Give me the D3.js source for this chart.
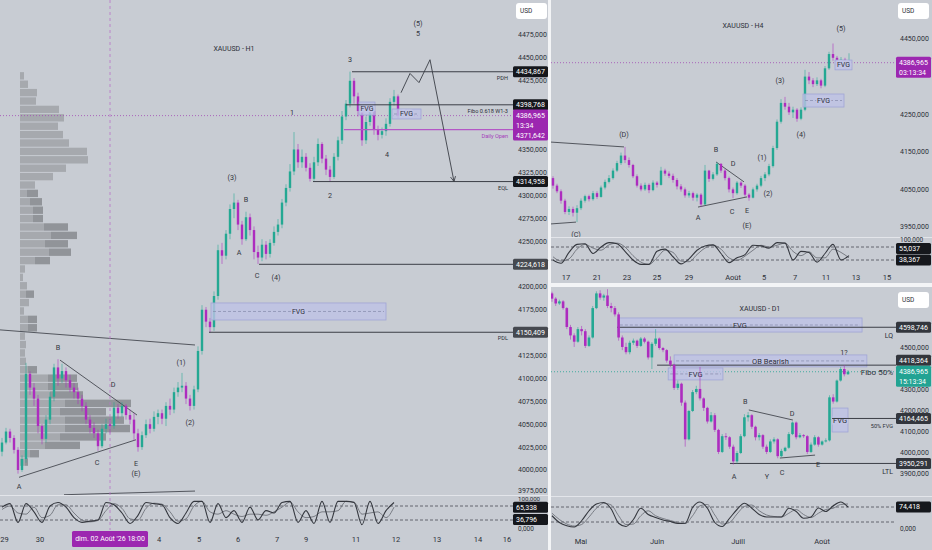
<!DOCTYPE html>
<html>
<head>
<meta charset="utf-8">
<script src="https://cdn.jsdelivr.net/npm/d3@7"></script>
<style>
  body { margin: 0; background: #f3f4f6; }
  text { font-family: Roboto, "Liberation Sans", Arial, sans-serif; }
</style>
</head>
<body>
<script>
// ---- XAUUSD H1 ----
var h1Open = 4020;
var h1Close = [4030,4042,4035,4022,4000,4012,4105,4090,4078,4048,
  4034,4055,4080,4112,4100,4108,4098,4090,4085,4078,
  4070,4055,4046,4040,4026,4045,4050,4048,4068,4062,
  4070,4060,4055,4040,4025,4038,4050,4045,4058,4062,
  4056,4070,4066,4085,4090,4092,4078,4070,4088,4130,
  4175,4162,4156,4190,4240,4234,4258,4285,4292,4268,
  4252,4276,4262,4238,4232,4246,4236,4248,4260,4268,
  4292,4308,4326,4350,4336,4342,4330,4318,4336,4356,
  4340,4328,4320,4342,4360,4386,4400,4425,4408,4392,
  4360,4380,4392,4372,4366,4370,4378,4402,4408,4387];
var h1High = [4035,4046,4045,4038,4025,4016,4117,4108,4095,4082,
  4050,4060,4085,4116,4121,4116,4112,4104,4095,4090,
  4082,4074,4060,4052,4044,4050,4056,4056,4074,4072,
  4074,4072,4066,4062,4045,4042,4055,4056,4064,4066,
  4066,4074,4078,4090,4096,4106,4096,4082,4092,4135,
  4180,4178,4166,4195,4246,4248,4262,4290,4302,4295,
  4272,4282,4280,4266,4245,4252,4250,4252,4266,4274,
  4296,4312,4334,4369,4356,4350,4346,4335,4342,4362,
  4358,4344,4332,4346,4364,4392,4404,4435,4428,4412,
  4394,4386,4396,4394,4376,4374,4384,4406,4415,4410];
var h1Low = [4015,4028,4030,4018,3996,3998,4008,4082,4070,4040,
  4028,4030,4050,4075,4092,4095,4090,4085,4078,4072,
  4064,4050,4040,4035,4021,4024,4040,4040,4045,4056,
  4058,4055,4050,4032,4020,4022,4035,4040,4042,4050,
  4050,4048,4060,4062,4080,4085,4072,4065,4066,4085,
  4126,4156,4150,4152,4186,4225,4230,4252,4275,4262,
  4246,4250,4256,4230,4225,4228,4230,4232,4245,4256,
  4264,4288,4304,4322,4330,4330,4326,4315,4316,4332,
  4335,4322,4315,4318,4338,4356,4382,4396,4400,4386,
  4354,4356,4376,4366,4360,4362,4365,4375,4398,4384];
var h1K = [75,90,10,90,55,10,80,95,75,30,10,15,20,95,85,50,5,40,95,90,85,30,5,50,100,
  100,10,90,30,60,10,75,20,60,50,95,100,10,60,5,100,10,100,100,95,0,100,5,60,95];
var h1D = [65,80,50,45,75,30,40,85,85,50,20,12,18,60,90,70,25,20,70,92,88,55,15,25,80,
  100,55,45,60,45,35,45,45,40,55,75,97,55,30,35,55,55,60,100,97,45,50,55,30,75];
var h1Ticks = [4475,4450,4425,4350,4325,4300,4275,4250,4200,4175,4125,4100,4075,4050,4025,4000,3975];
var h1TimeIdx = [0.6,9.5,39.25,49.25,59,68.75,76,88.5,98.5,108.75,119,126.25];
var h1TimeTxt = ["29","30","4","5","6","7","9","11","12","13","14","16"];
var h1Levels = [4434.867,4398.768,4314.958,4224.618,4150.409];
var h1LevelFrom = [87.5,86,77.75,64.25,51.75];
var h1LevelTag = ["PDH","Fibo 0.618 W1-3","EQL","","PDL"];
var h1DailyOpen = 4371.642, h1DailyFrom = 85.5;
var h1Last = 4386.965;
var h1OscLast = [65.338,36.796];
var vpTop = 4435, vpStep = 9.17;
var vpLight = [4,8,17,16,39,44,38,43,49,67,68,46,33,15,7,10,13,13,24,31,25,29,15,5,3,7,6,9,4,8,8,5,6,5,6,8,28,28,30,45,40,45,45,40,25,10,5];
var vpDark  = [0,0,0,0,0,0,0,0,0,0,0,0,0,0,11,12,10,10,24,26,23,22,15,0,0,0,8,0,0,9,9,0,0,0,0,9,29,30,33,66,46,59,65,46,35,9,3];
var h1NoteTxt = ["(5)","5","3","1","2","4","(3)","B","A","C","(4)","(1)","(2)","B","D","C","E","(E)","A"];
var h1NoteIdx = [104,104,87,72.5,82,96.25,57.5,61,59.25,63.75,68.5,44.75,47,14,27.75,23.75,33.5,33.5,4.25];
var h1NotePx  = [4488,4477,4448,4390,4300,4344,4319,4295,4237,4212,4210,4117,4052,4134,4093,4008,4007,3996,3982];
var h1Lines = [[-0.5,4153,48.25,4136.5],[14.5,4120,33.75,4060],[4.25,3992,33.5,4033],[15.5,3973,48.25,3977]];
var h1PathIdx = [99.75,102,104.25,107,113];
var h1PathPx = [4412,4433,4423,4448,4315];
var h1Zones = [[52.25,96,4182.4,4163.8,"FVG"],[89.25,93.25,4401.8,4387.6,"FVG"],[97.5,104.75,4394.2,4383.3,"FVG"]];

// ---- XAUUSD H4 ----
var h4Open = 4080;
var h4Close = [4060,4045,4020,3990,3998,3988,4000,4020,4032,4024,
  4040,4030,4055,4070,4080,4100,4120,4140,4128,4115,
  4085,4060,4050,4062,4048,4068,4062,4100,4092,4086,
  4075,4058,4050,4034,4040,4028,4036,4010,4100,4078,
  4090,4118,4100,4080,4050,4040,4068,4060,4036,4028,
  4050,4060,4080,4090,4112,4160,4230,4280,4270,4255,
  4262,4238,4262,4350,4340,4330,4340,4326,4372,4410,
  4400,4380,4395,4378,4387];
var h4High = [4085,4065,4050,4025,4005,4004,4008,4026,4036,4036,
  4046,4045,4060,4076,4088,4106,4126,4148,4163,4135,
  4118,4090,4066,4068,4066,4074,4072,4110,4105,4098,
  4092,4080,4064,4055,4046,4044,4040,4040,4115,4102,
  4096,4123,4120,4104,4084,4055,4072,4072,4064,4040,
  4055,4065,4086,4096,4118,4166,4236,4290,4296,4280,
  4270,4266,4268,4368,4362,4346,4348,4344,4378,4416,
  4438,4405,4402,4400,4412];
var h4Low = [4052,4040,4012,3984,3982,3978,3963,3995,4015,4018,
  4020,4025,4028,4050,4066,4076,4096,4115,4120,4108,
  4080,4055,4045,4046,4040,4045,4055,4060,4086,4080,
  4068,4050,4044,4028,4028,4020,4018,4003,4008,4070,
  4074,4086,4094,4074,4042,4027,4036,4054,4030,4020,
  4026,4044,4056,4072,4085,4108,4155,4225,4262,4248,
  4240,4230,4234,4258,4330,4322,4325,4319,4322,4368,
  4392,4372,4378,4372,4376];
var h4K = [20,5,55,92,95,50,80,100,95,60,20,0,0,60,70,35,2,25,65,85,90,50,8,30,45,88,85,75,100,98,20,60,55,10,50,92,20,40];
var h4D = [35,15,25,70,92,75,65,90,98,80,40,10,0,30,65,55,15,12,45,75,88,70,30,18,38,65,88,80,88,98,60,40,58,30,30,70,55,30];
var h4Ticks = [4450,4250,4150,4050,3950];
var h4TimeIdx = [3.25,11,18.5,26,34,45,52.75,60.5,68.25,75.75,83.5];
var h4TimeTxt = ["17","21","23","25","29","Août","5","7","11","13","15"];
var h4OscLast = [55.037,38.367];
var h4NoteTxt = ["(5)","(3)","(4)","(D)","(1)","(2)","B","D","A","C","E","(E)","(C)"];
var h4NoteIdx = [72,56.75,62,17.75,52.25,53.75,40.75,45,36.25,44.75,48.5,48.5,5.75];
var h4NotePx  = [4477,4341,4195,4195,4134,4040,4157,4118,3974,3990,3995,3953,3931];
var h4Lines = [[-0.75,4176,17.75,4163],[-0.75,3958,5.75,3963],[40.75,4123,47.75,4070],[36.25,4003,48.5,4030]];
var h4Zones = [[62.5,72.75,4303.7,4269.1,"FVG"],[70.5,74.75,4394,4368,"FVG"]];

// ---- XAUUSD D1 ----
var d1Open = 4760;
var d1Close = [4735,4712,4722,4690,4600,4560,4530,4590,4580,4510,
  4550,4690,4760,4740,4750,4700,4690,4660,4550,4505,
  4480,4525,4535,4510,4545,4530,4455,4520,4545,4500,
  4490,4440,4420,4310,4330,4240,4065,4200,4290,4305,
  4260,4215,4150,4180,4110,4005,4080,4075,4030,3960,
  4000,4080,4170,4180,4125,4075,4085,4030,4005,4055,
  4065,3985,4010,4025,4090,4145,4075,4085,4080,4005,
  4040,4075,4040,4055,4060,4265,4245,4345,4400,4375,
  4387];
var d1High = [4768,4742,4730,4728,4695,4610,4570,4600,4605,4590,
  4560,4700,4770,4775,4758,4780,4715,4700,4670,4560,
  4525,4535,4545,4540,4552,4552,4535,4528,4590,4550,
  4505,4495,4460,4425,4345,4335,4250,4205,4300,4320,
  4410,4265,4220,4195,4190,4115,4090,4095,4080,4040,
  4010,4090,4185,4195,4185,4130,4095,4090,4040,4065,
  4075,4070,4020,4030,4100,4150,4150,4095,4090,4085,
  4050,4085,4080,4060,4070,4275,4280,4350,4410,4418,
  4395];
var d1Low = [4720,4700,4705,4682,4590,4540,4505,4525,4560,4500,
  4505,4545,4685,4730,4725,4690,4670,4650,4535,4490,
  4470,4470,4515,4500,4505,4522,4445,4400,4510,4492,
  4480,4430,4410,4300,4300,4225,4030,4060,4195,4280,
  4250,4200,4140,4145,4100,3995,4000,4062,4020,3945,
  3950,3995,4075,4150,4115,4060,4060,4020,3995,4000,
  4045,3975,3980,4005,4020,4085,4065,4070,4072,3995,
  4000,4035,4030,4035,4050,4055,4235,4240,4340,4365,
  4372];
var d1K = [45,18,5,0,25,65,92,98,72,15,2,30,75,50,38,28,22,14,15,78,100,75,18,2,35,70,95,75,50,40,40,40,75,62,35,40,76,62,85,100,80];
var d1D = [55,30,12,4,10,40,75,95,88,45,10,12,45,65,45,34,26,18,14,45,85,90,48,12,18,52,82,88,65,48,42,40,55,70,50,38,55,70,75,90,92];
var d1Ticks = [4500,4300,4200,4100,4000,3900];
var d1TimeIdx = [7.8,28.4,50.3,73];
var d1TimeTxt = ["Mai","Juin","Juill","Août"];
var d1Levels = [4598.746,4418.364,4164.465,3950.291];
var d1LevelFrom = [17.6,28.4,75.7,48.1];
var d1LevelTag = ["LQ","","50% FVG","LTL"];
var d1OscLast = [74.418];
var d1NoteTxt = ["1?","A","Y","C","E","B","D"];
var d1NoteIdx = [78.9,49.2,58.1,62.2,71.9,52.2,64.9];
var d1NotePx  = [4481,3890,3886,3905,3943,4243,4190];
var d1Lines = [[53.2,4205,65.1,4157],[61.6,3976,71.1,3990]];
var d1Zones = [[17.8,83.8,4643,4576,"FVG"],[33,85.1,4467,4410,"OB Bearish"],[31.4,46.2,4405,4348,"FVG"],[75.7,80,4214,4100,"FVG"]];
var lastPrice = 4386.965;

var BG = "#c8ccd3", INK = "#2c2f37", UP = "#24a893", DOWN = "#ad2cbf",
    PURPLE = "#9c27b0", TEAL = "#22a393", LEVEL = "#3b3e46", SEP = "#e3e5ea";

var svg = d3.select("body").append("svg").attr("width", 932).attr("height", 550);
svg.append("rect").attr("width", 932).attr("height", 550).attr("fill", "#f3f4f6");
svg.append("defs").append("marker").attr("id", "arrow").attr("viewBox", "0 0 10 10")
    .attr("refX", 9).attr("refY", 5).attr("markerWidth", 7).attr("markerHeight", 7).attr("orient", "auto")
  .append("path").attr("d", "M1,1 L9,5 L1,9").attr("fill", "none").attr("stroke", LEVEL).attr("stroke-width", 1.3);

function num(v) { return d3.format(".3f")(v).replace(".", ","); }

function clipped(id, x, y, w, h) {
  svg.append("clipPath").attr("id", id).append("rect")
      .attr("x", x).attr("y", y).attr("width", w).attr("height", h);
  return svg.append("g").attr("clip-path", "url(#" + id + ")");
}

function txt(g, x, y, t, size, fill, anchor) {
  return g.append("text").attr("x", x).attr("y", y).attr("dy", "0.35em")
      .attr("font-size", size).attr("fill", fill || INK)
      .attr("text-anchor", anchor || "middle").text(t);
}

function tag(x, y, w, t, fill) {
  svg.append("rect").attr("x", x).attr("y", y - 5.5).attr("width", w).attr("height", 11)
      .attr("rx", 1.5).attr("fill", fill);
  txt(svg, x + 3, y, t, 7, "#fff", "start");
}

function usd(x, y) {
  svg.append("rect").attr("x", x).attr("y", y).attr("width", 31).attr("height", 16)
      .attr("rx", 3).attr("fill", "#fff");
  txt(svg, x + 4, y + 8, "USD", 6.5, INK, "start");
}

function candles(g, x, y, open0, close, high, low, w) {
  var rows = close.map(function(c, i) {
    return {i: i, o: i ? close[i - 1] : open0, c: c, h: high[i], l: low[i]};
  });
  var s = g.selectAll(null).data(rows).enter().append("g")
      .attr("fill", function(d) { return d.c >= d.o ? UP : DOWN; })
      .attr("stroke", function(d) { return d.c >= d.o ? UP : DOWN; });
  s.append("line")
      .attr("x1", function(d) { return x(d.i); }).attr("x2", function(d) { return x(d.i); })
      .attr("y1", function(d) { return y(Math.max(d.h, d.o, d.c)); })
      .attr("y2", function(d) { return y(Math.min(d.l, d.o, d.c)); })
      .attr("stroke-width", 0.7).attr("stroke-opacity", 0.8);
  s.append("rect").attr("stroke", "none")
      .attr("x", function(d) { return x(d.i) - w / 2; }).attr("width", w)
      .attr("y", function(d) { return y(Math.max(d.o, d.c)); })
      .attr("height", function(d) { return Math.max(0.8, Math.abs(y(d.o) - y(d.c))); });
}

function stoch(g, x, y, k, d, x0, x1) {
  [80, 20].forEach(function(v) {
    g.append("line").attr("x1", x0).attr("x2", x1).attr("y1", y(v)).attr("y2", y(v))
        .attr("stroke", "#4a4d55").attr("stroke-dasharray", "3,2").attr("stroke-width", 0.8);
  });
  var line = d3.line().x(function(v, j) { return x(j * 2); }).y(function(v) { return y(v); })
      .curve(d3.curveMonotoneX);
  g.append("path").attr("d", line(d)).attr("fill", "none").attr("stroke", "#6f737b").attr("stroke-width", 0.9);
  g.append("path").attr("d", line(k)).attr("fill", "none").attr("stroke", "#34373e").attr("stroke-width", 1.1);
}

function segments(g, x, y, list) {
  g.selectAll(null).data(list).enter().append("line")
      .attr("x1", function(s) { return x(s[0]); }).attr("y1", function(s) { return y(s[1]); })
      .attr("x2", function(s) { return x(s[2]); }).attr("y2", function(s) { return y(s[3]); })
      .attr("stroke", "#454850").attr("stroke-width", 0.9);
}

function zones(g, x, y, list, size) {
  list.forEach(function(z) {
    var xa = x(z[0]), xb = x(z[1]), ya = y(z[2]), yb = y(z[3]);
    g.append("rect").attr("x", xa).attr("y", ya).attr("width", xb - xa).attr("height", yb - ya)
        .attr("fill", "#bec2e6").attr("fill-opacity", 0.8).attr("stroke", "#a0a5d6").attr("stroke-width", 0.8);
    g.append("line").attr("x1", xa + 2).attr("x2", xb - 2).attr("y1", (ya + yb) / 2).attr("y2", (ya + yb) / 2)
        .attr("stroke", "#8489aa").attr("stroke-dasharray", "3,2").attr("stroke-width", 0.7);
    txt(g, (xa + xb) / 2, (ya + yb) / 2, z[4], size, INK)
        .attr("stroke", "#c3c6e6").attr("stroke-width", 3).attr("paint-order", "stroke");
  });
}

function notes(g, x, y, t, idx, px, size) {
  t.forEach(function(s, k) { txt(g, x(idx[k]), y(px[k]), s, size, "#33363e"); });
}

// ================= H1 panel =================
var x1 = d3.scaleLinear().domain([0, 99]).range([2, 398]);
var y1 = d3.scaleLinear().domain([4000, 4475]).range([470, 35]);
var o1 = d3.scaleLinear().domain([20, 80]).range([520, 506]);

svg.append("rect").attr("x", 0).attr("y", 0).attr("width", 548).attr("height", 550).attr("fill", BG);
var g1 = clipped("c1", 0, 0, 513, 495);

var vx = d3.scaleLinear().domain([0, 100]).range([20, 120]);
var vp = g1.selectAll(null).data(vpLight).enter().append("g");
vp.append("rect").attr("x", vx(0))
    .attr("y", function(v, k) { return y1(vpTop - k * vpStep) + 0.5; })
    .attr("width", function(v) { return vx(v) - vx(0); })
    .attr("height", y1(0) - y1(vpStep) - 1).attr("fill", "#a6a9ae");
vp.append("rect").attr("x", function(v) { return vx(v); })
    .attr("y", function(v, k) { return y1(vpTop - k * vpStep) + 0.5; })
    .attr("width", function(v, k) { return vx(vpDark[k]) - vx(0); })
    .attr("height", y1(0) - y1(vpStep) - 1).attr("fill", "#919499");

g1.append("line").attr("x1", 0).attr("x2", 513).attr("y1", y1(h1Last)).attr("y2", y1(h1Last))
    .attr("stroke", "#a14ab4").attr("stroke-dasharray", "1,2").attr("stroke-width", 0.8);

segments(g1, x1, y1, h1Lines);
candles(g1, x1, y1, h1Open, h1Close, h1High, h1Low, 2.4);
zones(g1, x1, y1, h1Zones, 7);

h1Levels.forEach(function(v, k) {
  g1.append("line").attr("x1", x1(h1LevelFrom[k])).attr("x2", 513).attr("y1", y1(v)).attr("y2", y1(v))
      .attr("stroke", LEVEL).attr("stroke-width", 1);
  if (h1LevelTag[k]) txt(g1, 508, y1(v) + 6, h1LevelTag[k], 5.6, INK, "end");
});
g1.append("line").attr("x1", x1(h1DailyFrom)).attr("x2", 513).attr("y1", y1(h1DailyOpen)).attr("y2", y1(h1DailyOpen))
    .attr("stroke", "#b457c6").attr("stroke-width", 1.3);
txt(g1, 508, y1(h1DailyOpen) + 6, "Daily Open", 5.6, "#a63dbb", "end");

g1.append("path")
    .attr("d", d3.line()(h1PathIdx.map(function(v, k) { return [x1(v), y1(h1PathPx[k])]; })))
    .attr("fill", "none").attr("stroke", LEVEL).attr("stroke-width", 0.9).attr("marker-end", "url(#arrow)");

notes(g1, x1, y1, h1NoteTxt, h1NoteIdx, h1NotePx, 7.2);
txt(g1, x1(58), y1(4460), "XAUUSD - H1", 7, INK);

svg.append("line").attr("x1", x1(27)).attr("x2", x1(27)).attr("y1", 0).attr("y2", 530)
    .attr("stroke", "#b873c8").attr("stroke-dasharray", "3,3").attr("stroke-width", 0.8);
svg.append("line").attr("x1", 0).attr("x2", 548).attr("y1", 495.5).attr("y2", 495.5).attr("stroke", SEP);

var a1 = clipped("c1a", 513, 0, 35, 495);
h1Ticks.forEach(function(t) { txt(a1, 518, Math.min(y1(t), 490.5), num(t), 7, INK, "start"); });
h1Levels.forEach(function(v, k) { tag(513, y1(v), 35, num(v), k < 3 ? "#15171c" : "#464950"); });
svg.append("rect").attr("x", 513).attr("y", y1(h1Last) - 6).attr("width", 35).attr("height", 31)
    .attr("rx", 1.5).attr("fill", PURPLE);
txt(svg, 516, y1(h1Last), num(h1Last), 7, "#fff", "start");
txt(svg, 516, y1(h1Last) + 10, "13:34", 7, "#fff", "start");
txt(svg, 516, y1(h1DailyOpen) + 6, num(h1DailyOpen), 7, "#fff", "start");
usd(516, 3);

var g1o = clipped("c1o", 0, 496, 513, 34);
stoch(g1o, x1, o1, h1K, h1D, 0, 513);
txt(svg, 518, 498.5, "100,000", 6.2, INK, "start");
txt(svg, 518, o1(0) + 4, "0,000", 6.5, INK, "start");
tag(513, o1(80) + 1.2, 35, num(h1OscLast[0]), "#15171c");
tag(513, o1(20) - 0.5, 35, num(h1OscLast[1]), "#15171c");

h1TimeIdx.forEach(function(v, k) { txt(svg, x1(v), 539, h1TimeTxt[k], 7.5, INK); });
svg.append("rect").attr("x", x1(27) - 38).attr("y", 531).attr("width", 76).attr("height", 16)
    .attr("rx", 1.5).attr("fill", PURPLE);
txt(svg, x1(27), 539, "dim. 02 Août '26   18:00", 7, "#fff");

// ================= H4 panel =================
var x2 = d3.scaleLinear().domain([0, 74]).range([553, 849]);
var y2 = d3.scaleLinear().domain([3950, 4450]).range([227, 39]);
var o2 = d3.scaleLinear().domain([20, 80]).range([260, 247]);

svg.append("rect").attr("x", 551).attr("y", 0).attr("width", 381).attr("height", 283).attr("fill", BG);
var g2 = clipped("c2", 551, 0, 345, 237);
g2.append("line").attr("x1", 551).attr("x2", 896).attr("y1", y2(lastPrice)).attr("y2", y2(lastPrice))
    .attr("stroke", "#a14ab4").attr("stroke-dasharray", "1,2").attr("stroke-width", 0.8);
segments(g2, x2, y2, h4Lines);
candles(g2, x2, y2, h4Open, h4Close, h4High, h4Low, 2.4);
zones(g2, x2, y2, h4Zones, 7);
notes(g2, x2, y2, h4NoteTxt, h4NoteIdx, h4NotePx, 7.2);
txt(g2, x2(47.5), y2(4485), "XAUUSD - H4", 7, INK);

svg.append("line").attr("x1", 551).attr("x2", 932).attr("y1", 237.5).attr("y2", 237.5).attr("stroke", SEP);
h4Ticks.forEach(function(t) { txt(svg, 900, y2(t), num(t), 7, INK, "start"); });
svg.append("rect").attr("x", 896).attr("y", y2(lastPrice) - 6).attr("width", 35).attr("height", 21)
    .attr("rx", 1.5).attr("fill", PURPLE);
txt(svg, 899, y2(lastPrice), num(lastPrice), 7, "#fff", "start");
txt(svg, 899, y2(lastPrice) + 10, "03:13:34", 7, "#fff", "start");
usd(898, 3);

var g2o = clipped("c2o", 551, 238, 345, 32);
stoch(g2o, x2, o2, h4K, h4D, 551, 896);
txt(svg, 900, o2(100) - 3, "100,000", 6.5, INK, "start");
tag(896, o2(80) + 1.5, 35, num(h4OscLast[0]), "#15171c");
tag(896, o2(20), 35, num(h4OscLast[1]), "#15171c");
h4TimeIdx.forEach(function(v, k) { txt(svg, x2(v), 277, h4TimeTxt[k], 7.5, INK); });

// ================= D1 panel =================
var x3 = d3.scaleLinear().domain([0, 80]).range([552, 848]);
var y3 = d3.scaleLinear().domain([4000, 4500]).range([453, 348]);
var o3 = d3.scaleLinear().domain([20, 80]).range([522, 507]);

svg.append("rect").attr("x", 551).attr("y", 287).attr("width", 381).attr("height", 263).attr("fill", BG);
var g3 = clipped("c3", 551, 287, 345, 209);
g3.append("line").attr("x1", 551).attr("x2", 896).attr("y1", y3(lastPrice)).attr("y2", y3(lastPrice))
    .attr("stroke", TEAL).attr("stroke-dasharray", "1,2").attr("stroke-width", 0.8);
zones(g3, x3, y3, d1Zones, 7.5);
segments(g3, x3, y3, d1Lines);
d1Levels.forEach(function(v, k) {
  g3.append("line").attr("x1", x3(d1LevelFrom[k])).attr("x2", 896).attr("y1", y3(v)).attr("y2", y3(v))
      .attr("stroke", LEVEL).attr("stroke-width", 1);
  if (d1LevelTag[k]) txt(g3, 893, y3(v) + 8, d1LevelTag[k], k == 2 ? 5.6 : 7, INK, "end");
});
candles(g3, x3, y3, d1Open, d1Close, d1High, d1Low, 2.6);
notes(g3, x3, y3, d1NoteTxt, d1NoteIdx, d1NotePx, 7.2);
txt(g3, x3(56.2), y3(4690), "XAUUSD - D1", 7, INK);
txt(g3, 893, y3(lastPrice), "Fibo 50%", 8, INK, "end");

svg.append("line").attr("x1", 551).attr("x2", 932).attr("y1", 496.5).attr("y2", 496.5).attr("stroke", SEP);
d1Ticks.forEach(function(t) { txt(svg, 900, y3(t), num(t), 7, INK, "start"); });
var tealTop = y3(lastPrice) - 6;
d1Levels.forEach(function(v, k) {
  tag(896, k == 1 ? Math.min(y3(v), tealTop - 5.5) : y3(v), 35, num(v), "#33363d");
});
svg.append("rect").attr("x", 896).attr("y", tealTop).attr("width", 35).attr("height", 21)
    .attr("rx", 1.5).attr("fill", TEAL);
txt(svg, 899, y3(lastPrice), num(lastPrice), 7, "#fff", "start");
txt(svg, 899, y3(lastPrice) + 10, "15:13:34", 7, "#fff", "start");
usd(898, 292);

var g3o = clipped("c3o", 551, 497, 345, 33);
stoch(g3o, x3, o3, d1K, d1D, 551, 896);
txt(svg, 900, o3(0) + 2, "0,000", 6.5, INK, "start");
tag(896, o3(80), 35, num(d1OscLast[0]), "#15171c");
d1TimeIdx.forEach(function(v, k) { txt(svg, x3(v), 541, d1TimeTxt[k], 7.5, INK); });
</script>
</body>
</html>
